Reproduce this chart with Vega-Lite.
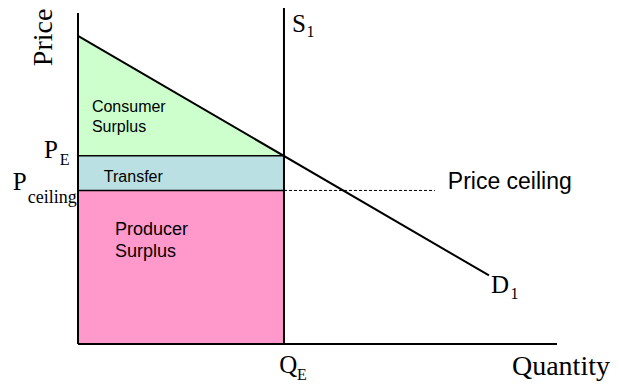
{
  "$schema": "https://vega.github.io/schema/vega-lite/v6.json",
  "width": 479,
  "height": 336,
  "autosize": {"type": "none"},
  "padding": {"left": 78, "top": 8, "right": 62, "bottom": 44},
  "background": "white",
  "config": {"view": {"stroke": null}},
  "encoding": {
    "x": {"field": "x", "type": "quantitative", "scale": {"domain": [0, 100], "nice": false, "zero": false}, "axis": null},
    "y": {"field": "y", "type": "quantitative", "scale": {"domain": [0, 100], "nice": false, "zero": false}, "axis": null}
  },
  "layer": [
    {
      "data": {"values": [{"x": 0, "y": 91.7, "y2": 56}, {"x": 43, "y": 56, "y2": 56}]},
      "mark": {"type": "area", "color": "#ccffcc", "opacity": 1},
      "encoding": {"y2": {"field": "y2"}}
    },
    {
      "data": {"values": [{"x": 0, "x2": 43, "y": 45.7, "y2": 56}]},
      "mark": {"type": "rect", "color": "#bbe0e3"},
      "encoding": {"x2": {"field": "x2"}, "y2": {"field": "y2"}}
    },
    {
      "data": {"values": [{"x": 0, "x2": 43, "y": 0, "y2": 45.7}]},
      "mark": {"type": "rect", "color": "#ff99cc"},
      "encoding": {"x2": {"field": "x2"}, "y2": {"field": "y2"}}
    },
    {
      "data": {"values": [{"x": 0, "x2": 43, "y": 56, "y2": 56}, {"x": 0, "x2": 43, "y": 45.7, "y2": 45.7}]},
      "mark": {"type": "rule", "color": "black", "strokeWidth": 1.5},
      "encoding": {"x2": {"field": "x2"}, "y2": {"field": "y2"}}
    },
    {
      "data": {"values": [{"x": 43, "x2": 74.5, "y": 45.7, "y2": 45.7}]},
      "mark": {"type": "rule", "color": "black", "strokeWidth": 1, "strokeDash": [3, 2]},
      "encoding": {"x2": {"field": "x2"}, "y2": {"field": "y2"}}
    },
    {
      "data": {"values": [
        {"name": "demand", "x": 0, "y": 91.7, "x2": 85.8, "y2": 20.4},
        {"name": "supply", "x": 43, "y": 0, "x2": 43, "y2": 100},
        {"name": "yaxis", "x": 0, "y": 0, "x2": 0, "y2": 98.5},
        {"name": "xaxis", "x": 0, "y": 0, "x2": 100, "y2": 0}
      ]},
      "mark": {"type": "rule", "color": "black", "strokeWidth": 2},
      "encoding": {"x2": {"field": "x2"}, "y2": {"field": "y2"}}
    },
    {
      "data": {"values": [{"t": "Price", "x": -5.4, "y": 82.7}]},
      "mark": {"type": "text", "font": "Liberation Serif", "fontSize": 28, "angle": 270, "align": "left", "baseline": "alphabetic", "color": "black"},
      "encoding": {"text": {"field": "t"}}
    },
    {
      "data": {"values": [{"t": "Quantity", "x": 90.6, "y": -9.2}]},
      "mark": {"type": "text", "font": "Liberation Serif", "fontSize": 28, "align": "left", "baseline": "alphabetic", "color": "black"},
      "encoding": {"text": {"field": "t"}}
    },
    {
      "data": {"values": [
        {"t": "P", "x": -7.1, "y": 55.4},
        {"t": "P", "x": -13.6, "y": 45.8},
        {"t": "Q", "x": 42.0, "y": -8.6},
        {"t": "D", "x": 86.2, "y": 15.2},
        {"t": "S", "x": 44.7, "y": 92.9}
      ]},
      "mark": {"type": "text", "font": "Liberation Serif", "fontSize": 25, "align": "left", "baseline": "alphabetic", "color": "black"},
      "encoding": {"text": {"field": "t"}}
    },
    {
      "data": {"values": [
        {"t": "E", "x": -3.8, "y": 53.3},
        {"t": "E", "x": 45.7, "y": -10.7},
        {"t": "1", "x": 90.3, "y": 13.4},
        {"t": "1", "x": 47.7, "y": 91.4}
      ]},
      "mark": {"type": "text", "font": "Liberation Serif", "fontSize": 16, "align": "left", "baseline": "alphabetic", "color": "black"},
      "encoding": {"text": {"field": "t"}}
    },
    {
      "data": {"values": [{"t": "ceiling", "x": -10.5, "y": 42.1}]},
      "mark": {"type": "text", "font": "Liberation Serif", "fontSize": 18, "align": "left", "baseline": "alphabetic", "color": "black"},
      "encoding": {"text": {"field": "t"}}
    },
    {
      "data": {"values": [{"t": "Price ceiling", "x": 77.2, "y": 46.1}]},
      "mark": {"type": "text", "font": "Liberation Sans", "fontSize": 23, "align": "left", "baseline": "alphabetic", "color": "black"},
      "encoding": {"text": {"field": "t"}}
    },
    {
      "data": {"values": [
        {"t": "Consumer", "x": 2.9, "y": 69.0},
        {"t": "Surplus", "x": 2.9, "y": 63.1},
        {"t": "Transfer", "x": 5.4, "y": 48.2}
      ]},
      "mark": {"type": "text", "font": "Liberation Sans", "fontSize": 16, "align": "left", "baseline": "alphabetic", "color": "black"},
      "encoding": {"text": {"field": "t"}}
    },
    {
      "data": {"values": [
        {"t": "Producer", "x": 7.7, "y": 32.4},
        {"t": "Surplus", "x": 7.7, "y": 25.9}
      ]},
      "mark": {"type": "text", "font": "Liberation Sans", "fontSize": 18, "align": "left", "baseline": "alphabetic", "color": "black"},
      "encoding": {"text": {"field": "t"}}
    }
  ]
}
